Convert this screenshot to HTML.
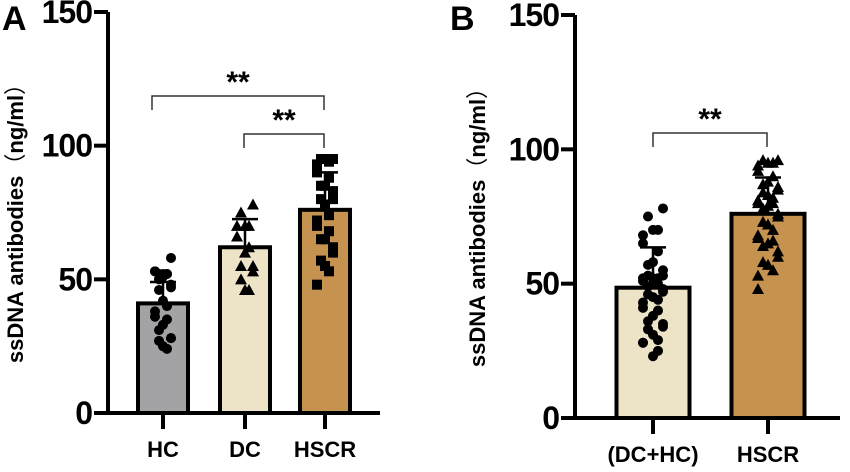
<!DOCTYPE html>
<html><head><meta charset="utf-8"><style>
body{margin:0;background:#fff}
svg text{font-family:"Liberation Sans",Arial,sans-serif;font-weight:bold;fill:#000}
</style></head><body>
<svg id="c" width="850" height="467" viewBox="0 0 850 467" xmlns="http://www.w3.org/2000/svg"></svg>
<script>
const catsA=["HC","DC","HSCR"];
const meansA=[41,62,76];
const sdA=[8,10.5,14];
const hcVals=[58,52,52,52,53,53,52,51,50,48,47,46,42,40,38,36,35,33,31,28,28,27,25,24];
const dcVals=[78,75,70,70,70,66,62,60,55,55,53,50,46,46];
const hscrVals=[95,95,95,94,93,90,88,85,85,83,80,80,78,74,72,70,68,65,65,62,60,57,55,53,48];
const catsB=["(DC+HC)","HSCR"];
const meansB=[48.5,76];
const sdB=[15,13.5];
const bPool=[78,75,70,70,68,65,62,58,57,55,53,53,52,52,52,51,50,50,49,48,47,46,45,44,43,41,40,38,36,35,34,33,31,29,28,28,25,23];
const bHscr=[96,96,95,95,94,92,90,88,87,86,85,84,83,82,81,80,80,79,78,76,75,73,72,70,68,67,66,65,64,62,60,58,57,55,53,48];
const yTicks=[0,50,100,150];

const NS="http://www.w3.org/2000/svg";
const svg=document.getElementById('c');
function el(t,a,p){const e=document.createElementNS(NS,t);for(const k in a)e.setAttribute(k,a[k]);(p||svg).appendChild(e);return e;}

function panel(o){
  const g=el('g',{});
  
  
  const y=v=>o.y0-(v/150)*(o.y0-o.y150);
  o.cats.forEach((c,i)=>{
    const cx=o.xs[i];
    const b=el('rect',{x:cx-o.bw/2,y:y(o.means[i]),width:o.bw,height:o.y0-y(o.means[i]),fill:o.colors[i],stroke:'#000','stroke-width':4},g);
    
    
  });
  o.pts.forEach((vals,i)=>{
    const cx=o.xs[i];
    vals.forEach((v,j)=>{
      const off=((j%5)-2)*o.jit*(j%2?1:-1);
      const px=cx+off, py=y(v);
      let m;
      if(o.shapes[i]==='c') m=el('circle',{cx:px,cy:py,r:5,fill:'#000'},g);
      else if(o.shapes[i]==='s') m=el('rect',{x:px-5,y:py-5,width:10,height:10,fill:'#000'},g);
      else m=el('polygon',{points:`${px},${py-6} ${px-6},${py+5} ${px+6},${py+5}`,fill:'#000'},g);
      
      
    });
    const e=el('path',{d:`M${cx},${y(o.means[i])}V${y(o.means[i]+o.sd[i])}M${cx-13},${y(o.means[i]+o.sd[i])}H${cx+13}`,stroke:'#000','stroke-width':2.5,fill:'none'},g);
    
    
  });
  const ax=el('path',{d:`M${o.ax},${o.y150}V${o.y0}M${o.ax-14},${o.y0}H${o.xend}`,stroke:'#000','stroke-width':4,fill:'none'},g);
  
  
  yTicks.forEach(t=>{
    el('line',{x1:o.ax-14,x2:o.ax,y1:y(t),y2:y(t),stroke:'#000','stroke-width':4},g);
    const tx=el('text',{x:o.ax-16,y:y(t)+11,'text-anchor':'end','font-size':32,'letter-spacing':'-1'},g);
    tx.textContent=t;
    
    
  });
  o.cats.forEach((c,i)=>{
    el('line',{x1:o.xs[i],x2:o.xs[i],y1:o.y0,y2:o.y0+16,stroke:'#000','stroke-width':4},g);
    const tx=el('text',{x:o.xs[i],y:o.y0+44,'text-anchor':'middle','font-size':22},g);
    tx.textContent=c;
    
    
  });
  const yt=el('text',{x:0,y:0,'text-anchor':'middle','font-size':22,transform:`translate(${o.tx},${o.ty}) rotate(-90)`},g);
  yt.innerHTML='ssDNA antibodies<tspan font-family="Noto Sans CJK SC, sans-serif" font-weight="normal">（</tspan>ng/ml<tspan font-family="Noto Sans CJK SC, sans-serif" font-weight="normal">）</tspan>';
  
  
  const pl=el('text',{x:o.lx,y:30,'font-size':34},g);
  pl.textContent=o.label;
  
  
  o.brackets.forEach(b=>{
    const p=el('path',{d:`M${b[0]},${b[2]+14}V${b[2]}H${b[1]}V${b[2]+14}`,stroke:'#333','stroke-width':1.5,fill:'none'},g);
    
    
    const s=el('text',{x:(b[0]+b[1])/2,y:b[2]-4,'text-anchor':'middle','font-size':30},g);
    s.textContent='**';
    
    
  });
}
panel({name:'panel-a',label:'A',lx:2,cats:catsA,means:meansA,sd:sdA,pts:[hcVals,dcVals,hscrVals],shapes:['c','t','s'],
  xs:[163,245,325],bw:50,y0:413,y150:12,ax:108,xend:380,tx:23,ty:218,jit:4,
  colors:['#a3a3a6','#ede3c7','#c6924f'],brackets:[[152,324,96],[244,324,134]]});
panel({name:'panel-b',label:'B',lx:450,cats:catsB,means:meansB,sd:sdB,pts:[bPool,bHscr],shapes:['c','t'],
  xs:[653,768],bw:73,y0:418,y150:15,ax:575,xend:840,tx:485,ty:222,jit:5,
  colors:['#ede3c7','#c6924f'],brackets:[[653,767,133]]});
</script>
</body></html>
